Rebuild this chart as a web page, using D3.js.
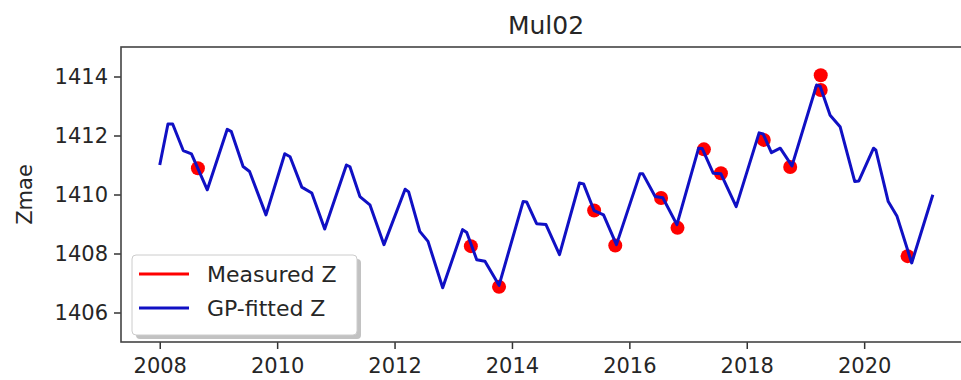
<!DOCTYPE html>
<html>
<head>
<meta charset="utf-8">
<script src="https://cdn.jsdelivr.net/npm/d3@7"></script>
<style>
	body { margin: 0; background: #fff; }
	text { font-family: "DejaVu Sans", sans-serif; fill: #262626; }
</style>
</head>
<body>
<svg id="chart" width="961" height="380"></svg>
<script>
// GP-fitted curve (decimal year, Z)
let fitYear = [2008.00, 2008.14, 2008.22, 2008.40, 2008.54, 2008.81, 2009.15, 2009.22, 2009.42, 2009.53,
	2009.81, 2010.13, 2010.22, 2010.42, 2010.59, 2010.81, 2011.18, 2011.24, 2011.41, 2011.58,
	2011.82, 2012.18, 2012.24, 2012.43, 2012.57, 2012.82, 2013.16, 2013.23, 2013.40, 2013.54,
	2013.78, 2014.19, 2014.25, 2014.42, 2014.58, 2014.81, 2015.15, 2015.22, 2015.40, 2015.56,
	2015.78, 2016.18, 2016.23, 2016.44, 2016.57, 2016.81, 2017.18, 2017.24, 2017.43, 2017.56,
	2017.82, 2018.21, 2018.28, 2018.42, 2018.57, 2018.77, 2019.19, 2019.25, 2019.42, 2019.59,
	2019.84, 2019.91, 2020.16, 2020.20, 2020.41, 2020.56, 2020.81, 2021.17];
let fitZ = [1411.00, 1412.39, 1412.39, 1411.49, 1411.38, 1410.16, 1412.21, 1412.13, 1410.95, 1410.78,
	1409.31, 1411.38, 1411.28, 1410.25, 1410.05, 1408.83, 1411.00, 1410.94, 1409.93, 1409.65,
	1408.30, 1410.18, 1410.09, 1408.75, 1408.41, 1406.84, 1408.81, 1408.71, 1407.79, 1407.74,
	1406.92, 1409.76, 1409.75, 1409.01, 1408.98, 1407.96, 1410.39, 1410.36, 1409.45, 1409.31,
	1408.30, 1410.70, 1410.70, 1409.93, 1409.89, 1408.98, 1411.57, 1411.56, 1410.72, 1410.70,
	1409.59, 1412.09, 1412.05, 1411.42, 1411.57, 1410.97, 1413.71, 1413.67, 1412.69, 1412.30,
	1410.44, 1410.46, 1411.57, 1411.50, 1409.76, 1409.26, 1407.68, 1409.99];

// measured points
let measYear = [2008.65, 2013.30, 2013.78, 2015.40, 2015.76, 2016.54, 2016.82, 2017.27, 2017.56,
	2018.29, 2018.74, 2019.26, 2019.26, 2020.74];
let measZ = [1410.89, 1408.25, 1406.87, 1409.46, 1408.27, 1409.88, 1408.87, 1411.53, 1410.72,
	1411.85, 1410.93, 1414.04, 1413.54, 1407.91];

let xTicks = [2008, 2010, 2012, 2014, 2016, 2018, 2020];
let yTicks = [1406, 1408, 1410, 1412, 1414];

let plotLeft = 121, plotRight = 971, plotTop = 47, plotBottom = 342;

let svg = d3.select("#chart");

let x = d3.scaleLinear().domain([2007.34, 2021.82]).range([plotLeft, plotRight]);
let y = d3.scaleLinear().domain([1405, 1415]).range([plotBottom, plotTop]);

svg.append("clipPath").attr("id", "plotClip")
	.append("rect")
	.attr("x", plotLeft).attr("y", plotTop)
	.attr("width", plotRight - plotLeft).attr("height", plotBottom - plotTop);

let plot = svg.append("g").attr("clip-path", "url(#plotClip)");

// measured dots under the line
plot.selectAll("circle")
	.data(measYear)
	.enter()
	.append("circle")
	.attr("cx", function(d) { return x(d); })
	.attr("cy", function(d, i) { return y(measZ[i]); })
	.attr("r", 7)
	.attr("fill", "#f00");

let line = d3.line()
	.x(function(d) { return x(d); })
	.y(function(d, i) { return y(fitZ[i]); });

plot.append("path")
	.datum(fitYear)
	.attr("d", line)
	.attr("fill", "none")
	.attr("stroke", "#1010c4")
	.attr("stroke-width", 3)
	.attr("stroke-linejoin", "round");

// axes
let xAxis = svg.append("g")
	.attr("transform", "translate(0," + plotBottom + ")")
	.call(d3.axisBottom(x).tickValues(xTicks).tickFormat(d3.format("d")).tickSize(7).tickPadding(5));
let yAxis = svg.append("g")
	.attr("transform", "translate(" + plotLeft + ",0)")
	.call(d3.axisLeft(y).tickValues(yTicks).tickFormat(d3.format("d")).tickSize(7).tickPadding(6));

[xAxis, yAxis].forEach(function(a) {
	a.select(".domain").remove();
	a.selectAll("line").attr("stroke", "#333").attr("stroke-width", 1.5);
	a.selectAll("text").style("font-size", "21px").attr("fill", "#262626");
});
xAxis.selectAll("text").attr("dy", "0.9em");

// frame
svg.append("rect")
	.attr("x", plotLeft).attr("y", plotTop)
	.attr("width", plotRight - plotLeft).attr("height", plotBottom - plotTop)
	.attr("fill", "none")
	.attr("stroke", "#444")
	.attr("stroke-width", 1.6);

// title and label
svg.append("text")
	.attr("x", (plotLeft + plotRight) / 2)
	.attr("y", 34)
	.attr("text-anchor", "middle")
	.style("font-size", "25px")
	.text("Mul02");

svg.append("text")
	.attr("transform", "translate(32," + (plotTop + plotBottom) / 2 + ") rotate(-90)")
	.attr("text-anchor", "middle")
	.style("font-size", "21px")
	.text("Zmae");

// legend with shadow
let legend = svg.append("g");
legend.append("rect")
	.attr("x", 136).attr("y", 259)
	.attr("width", 225).attr("height", 80)
	.attr("rx", 4)
	.attr("fill", "#9a9a9a")
	.attr("opacity", 0.6);
legend.append("rect")
	.attr("x", 132).attr("y", 255)
	.attr("width", 225).attr("height", 80)
	.attr("rx", 4)
	.attr("fill", "#fff")
	.attr("stroke", "#ccc")
	.attr("stroke-width", 1);

let legendItems = ["Measured Z", "GP-fitted Z"];
let legendColors = ["#f00", "#1010c4"];
legendItems.forEach(function(name, i) {
	let ly = 274 + i * 34;
	legend.append("line")
		.attr("x1", 139).attr("x2", 189)
		.attr("y1", ly).attr("y2", ly)
		.attr("stroke", legendColors[i])
		.attr("stroke-width", 3);
	legend.append("text")
		.attr("x", 207).attr("y", ly)
		.attr("dominant-baseline", "central")
		.style("font-size", "22px")
		.text(name);
});
</script>
</body>
</html>
